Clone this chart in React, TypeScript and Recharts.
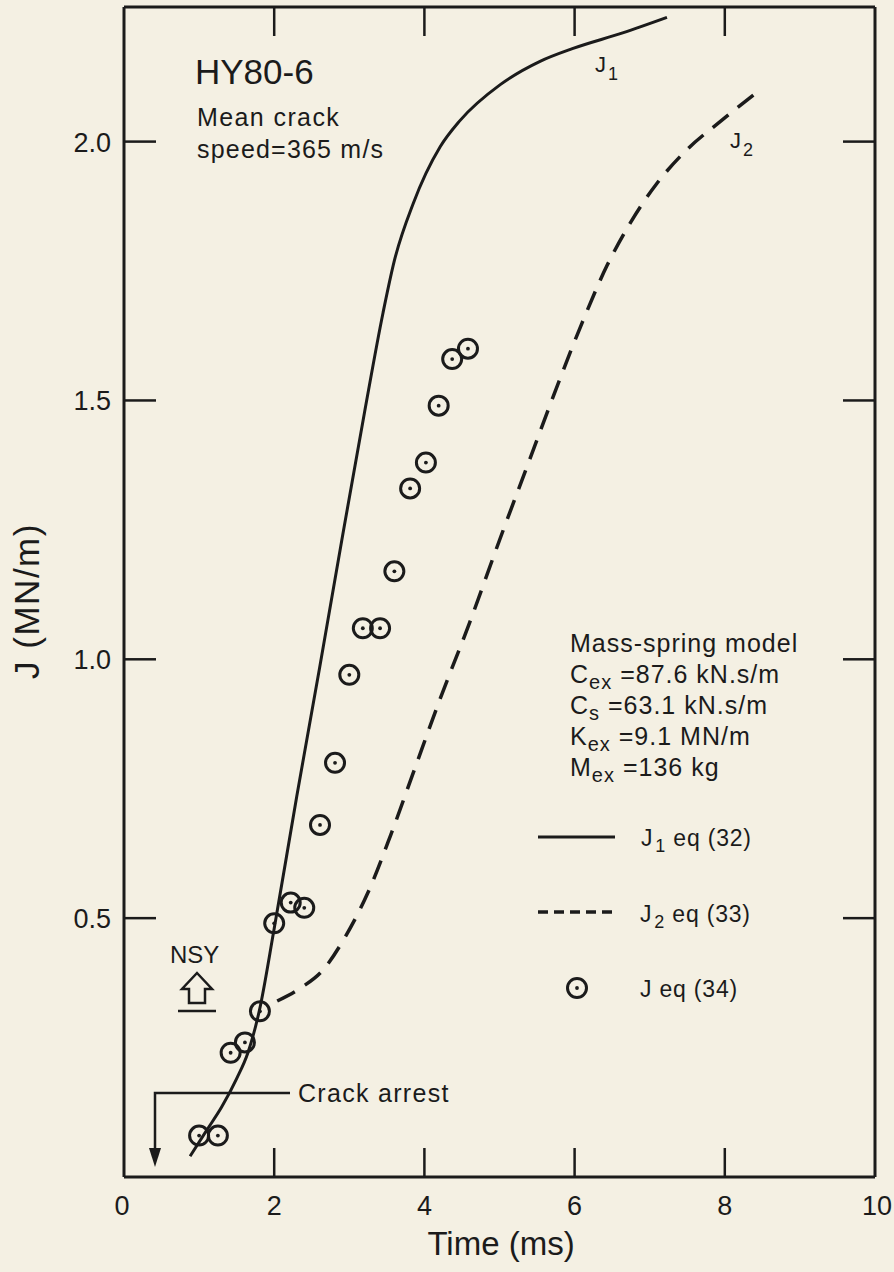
import React from 'react';
import { ComposedChart, Line, Scatter, XAxis, YAxis } from 'recharts';

// J1 from eq (32): time (ms) / J (MN/m)
const j1Time = [0.88, 1.1, 1.3, 1.5, 1.65, 1.8, 2.0, 2.3, 2.6, 2.9, 3.2, 3.45, 3.6, 3.85, 4.21, 4.47, 5.01, 5.54, 5.98, 6.64, 7.23];
const j1Value = [0.04, 0.09, 0.135, 0.19, 0.24, 0.32, 0.48, 0.735, 0.98, 1.23, 1.475, 1.67, 1.77, 1.88, 1.99, 2.04, 2.11, 2.155, 2.18, 2.21, 2.24];

// J2 from eq (33)
const j2Time = [2.04, 2.35, 2.65, 2.95, 3.25, 3.55, 3.85, 4.2, 4.6, 5.0, 5.4, 5.8, 6.1, 6.43, 6.75, 7.1, 7.5, 7.95, 8.38];
const j2Value = [0.34, 0.365, 0.4, 0.465, 0.55, 0.66, 0.78, 0.92, 1.07, 1.23, 1.385, 1.54, 1.65, 1.76, 1.845, 1.92, 1.985, 2.04, 2.09];

// J from eq (34), discrete points
const j34Time = [1.0, 1.25, 1.42, 1.61, 1.81, 2.0, 2.22, 2.4, 2.61, 2.81, 3.0, 3.18, 3.41, 3.6, 3.81, 4.02, 4.19, 4.37, 4.58];
const j34Value = [0.08, 0.08, 0.24, 0.26, 0.32, 0.49, 0.53, 0.52, 0.68, 0.8, 0.97, 1.06, 1.06, 1.17, 1.33, 1.38, 1.49, 1.58, 1.6];

const timeTicks = [0, 2, 4, 6, 8, 10];
const frameTimeTicks = [2, 4, 6, 8];
const jTicks = [0.5, 1.0, 1.5, 2.0];

const zip = (t: number[], v: number[]) => t.map((x, i) => ({ t: x, j: v[i] }));
const j1Data = zip(j1Time, j1Value);
const j2Data = zip(j2Time, j2Value);
const j34Data = zip(j34Time, j34Value);

const INK = '#1b1b1b';
const PAPER = '#f4f0e3';
const FONT = '"Liberation Sans", Arial, Helvetica, sans-serif';

const BottomTick = (props: any) => {
  const { x, y, payload } = props;
  const v = payload.value;
  return (
    <g>
      {v > 0 && v < 10 && <line x1={x} y1={y} x2={x} y2={y - 29} stroke={INK} strokeWidth={2.5} />}
      <text x={x - (v === 0 ? 2 : v === 10 ? -2 : 0)} y={y + 38} textAnchor="middle" fill={INK} fontSize={27} fontFamily={FONT}>
        {v}
      </text>
    </g>
  );
};

const TopTick = (props: any) => {
  const { x, y } = props;
  return <line x1={x} y1={y} x2={x} y2={y + 29} stroke={INK} strokeWidth={2.5} />;
};

const LeftTick = (props: any) => {
  const { x, y, payload } = props;
  return (
    <g>
      <line x1={x} y1={y} x2={x + 32} y2={y} stroke={INK} strokeWidth={2.5} />
      <text x={x - 13} y={y + 10} textAnchor="end" fill={INK} fontSize={27} fontFamily={FONT}>
        {payload.value.toFixed(1)}
      </text>
    </g>
  );
};

const RightTick = (props: any) => {
  const { x, y } = props;
  return <line x1={x} y1={y} x2={x - 32} y2={y} stroke={INK} strokeWidth={2.5} />;
};

const Ring = (props: any) => {
  const { cx, cy } = props;
  return (
    <g>
      <circle cx={cx} cy={cy} r={9.5} fill="none" stroke={INK} strokeWidth={3} />
      <circle cx={cx} cy={cy} r={1.9} fill={INK} />
    </g>
  );
};

const txt = { fill: INK, fontFamily: FONT } as const;

const Annotations = () => (
  <svg width={894} height={1272} style={{ position: 'absolute', left: 0, top: 0, pointerEvents: 'none' }}>
    {/* axis titles */}
    <text x={501} y={1255} textAnchor="middle" fontSize={33} {...txt}>Time (ms)</text>
    <text transform="translate(39,601) rotate(-90)" textAnchor="middle" fontSize={35} letterSpacing={1.5} {...txt}>J (MN/m)</text>

    {/* specimen block */}
    <text x={195} y={84} fontSize={35} {...txt}>HY80-6</text>
    <text x={197} y={126} fontSize={25} letterSpacing={1.4} {...txt}>Mean crack</text>
    <text x={197} y={158} fontSize={25} letterSpacing={1.2} {...txt}>speed=365 m/s</text>

    {/* curve labels */}
    <text x={595} y={72} fontSize={22} {...txt}>J<tspan dx={2} dy={8} fontSize={18}>1</tspan></text>
    <text x={730} y={148} fontSize={22} {...txt}>J<tspan dx={2} dy={8} fontSize={18}>2</tspan></text>

    {/* model parameters */}
    <g fontSize={25} letterSpacing={1} {...txt}>
      <text x={570} y={652}>Mass-spring model</text>
      <text x={570} y={683}>C<tspan dy={6} fontSize={20}>ex</tspan><tspan dy={-6}> =87.6 kN.s/m</tspan></text>
      <text x={570} y={714}>C<tspan dy={6} fontSize={20}>s</tspan><tspan dy={-6}> =63.1 kN.s/m</tspan></text>
      <text x={570} y={745}>K<tspan dy={6} fontSize={20}>ex</tspan><tspan dy={-6}> =9.1 MN/m</tspan></text>
      <text x={570} y={776}>M<tspan dy={6} fontSize={20}>ex</tspan><tspan dy={-6}> =136 kg</tspan></text>
    </g>

    {/* legend */}
    <line x1={538} y1={837} x2={615} y2={837} stroke={INK} strokeWidth={3} />
    <text x={641} y={846} fontSize={23} letterSpacing={0.8} {...txt}>J<tspan dx={2} dy={6} fontSize={18}>1</tspan><tspan dy={-6}> eq (32)</tspan></text>
    <line x1={538} y1={912} x2={615} y2={912} stroke={INK} strokeWidth={3.5} strokeDasharray="10 6" />
    <text x={640} y={922} fontSize={23} letterSpacing={0.8} {...txt}>J<tspan dx={2} dy={6} fontSize={18}>2</tspan><tspan dy={-6}> eq (33)</tspan></text>
    <circle cx={577} cy={988} r={9.5} fill="none" stroke={INK} strokeWidth={3} />
    <circle cx={577} cy={988} r={1.9} fill={INK} />
    <text x={640} y={997} fontSize={23} letterSpacing={0.8} {...txt}>J eq (34)</text>

    {/* NSY marker */}
    <text x={170} y={963} fontSize={24} {...txt}>NSY</text>
    <path d="M197 973 L212 989 L205 989 L205 1003 L189 1003 L189 989 L182 989 Z" fill="none" stroke={INK} strokeWidth={2.5} strokeLinejoin="miter" />
    <line x1={178} y1={1011} x2={216} y2={1011} stroke={INK} strokeWidth={2.5} />

    {/* crack arrest pointer */}
    <polyline points="290,1093 155,1093 155,1150" fill="none" stroke={INK} strokeWidth={2.5} />
    <path d="M149 1148 L161 1148 L155 1167 Z" fill={INK} />
    <text x={298} y={1102} fontSize={25} letterSpacing={1.3} {...txt}>Crack arrest</text>
  </svg>
);

export default function App() {
  return (
    <div style={{ position: 'absolute', left: 0, top: 0, width: 894, height: 1272, background: PAPER }}>
      <ComposedChart width={894} height={1272} margin={{ top: 6, right: 18, bottom: 0, left: 0 }}>
        <XAxis
          xAxisId="b"
          dataKey="t"
          type="number"
          domain={[0, 10]}
          ticks={timeTicks}
          interval={0}
          allowDataOverflow
          height={95}
          tickSize={0}
          tickMargin={0}
          tickLine={false}
          axisLine={{ stroke: INK, strokeWidth: 3 }}
          tick={<BottomTick />}
        />
        <XAxis
          xAxisId="top"
          orientation="top"
          dataKey="t"
          type="number"
          domain={[0, 10]}
          ticks={frameTimeTicks}
          interval={0}
          allowDataOverflow
          height={1}
          tickSize={0}
          tickMargin={0}
          tickLine={false}
          axisLine={{ stroke: INK, strokeWidth: 3 }}
          tick={<TopTick />}
        />
        <YAxis
          yAxisId="l"
          type="number"
          domain={[0, 2.26]}
          ticks={jTicks}
          interval={0}
          allowDataOverflow
          width={124}
          tickSize={0}
          tickMargin={0}
          tickLine={false}
          axisLine={{ stroke: INK, strokeWidth: 3 }}
          tick={<LeftTick />}
        />
        <YAxis
          yAxisId="r"
          orientation="right"
          type="number"
          domain={[0, 2.26]}
          ticks={jTicks}
          interval={0}
          allowDataOverflow
          width={1}
          tickSize={0}
          tickMargin={0}
          tickLine={false}
          axisLine={{ stroke: INK, strokeWidth: 3 }}
          tick={<RightTick />}
        />
        <Line
          xAxisId="b"
          yAxisId="l"
          data={j1Data}
          dataKey="j"
          type="monotone"
          stroke={INK}
          strokeWidth={3}
          dot={false}
          isAnimationActive={false}
        />
        <Line
          xAxisId="b"
          yAxisId="l"
          data={j2Data}
          dataKey="j"
          type="monotone"
          stroke={INK}
          strokeWidth={3.5}
          strokeDasharray="20 12"
          dot={false}
          isAnimationActive={false}
        />
        <Scatter
          xAxisId="b"
          yAxisId="l"
          data={j34Data}
          dataKey="j"
          shape={<Ring />}
          isAnimationActive={false}
        />
      </ComposedChart>
      <Annotations />
    </div>
  );
}
